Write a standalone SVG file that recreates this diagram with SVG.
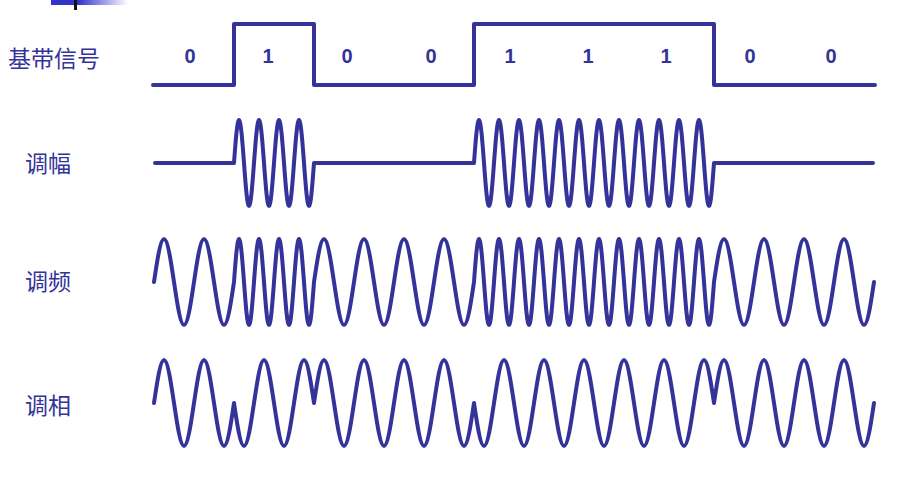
<svg xmlns="http://www.w3.org/2000/svg" width="921" height="480" viewBox="0 0 921 480">
<defs>
<linearGradient id="bar" x1="0" y1="0" x2="1" y2="0">
<stop offset="0" stop-color="#3333cc"/>
<stop offset="0.35" stop-color="#3333cc"/>
<stop offset="1" stop-color="#ffffff"/>
</linearGradient>
</defs>
<style>
.w{fill:none;stroke:#333399;stroke-width:4;stroke-linecap:round;stroke-linejoin:round}
.lab{font-family:"Noto Sans CJK SC","Noto Sans",sans-serif;font-size:23px;fill:#333399}
.bit{font-family:"Liberation Sans",Arial,sans-serif;font-size:20px;font-weight:bold;fill:#333399;text-anchor:middle}
</style>
<rect width="921" height="480" fill="#ffffff"/>
<rect x="51" y="0" width="77" height="5" fill="url(#bar)"/>
<rect x="74" y="0" width="3" height="10" fill="#111111"/>

<g id="baseband">
<text class="lab" x="8" y="67">基带信号</text>
<path class="w" d="M153,85 H234 V24 H314 V85 H474 V24 H714 V85 H875"/>
<text class="bit" x="190" y="63">0</text>
<text class="bit" x="268" y="63">1</text>
<text class="bit" x="347" y="63">0</text>
<text class="bit" x="431" y="63">0</text>
<text class="bit" x="510" y="63">1</text>
<text class="bit" x="588" y="63">1</text>
<text class="bit" x="666" y="63">1</text>
<text class="bit" x="750" y="63">0</text>
<text class="bit" x="831" y="63">0</text>
</g>

<g id="am">
<text class="lab" x="25" y="172">调幅</text>
<path class="w" d="M155,163 H234
c1.67,-22.58 3.21,-43 5,-43 s3.33,20.42 5,43 s3.21,43 5,43 s3.33,-20.42 5,-43
s3.21,-43 5,-43 s3.33,20.42 5,43 s3.21,43 5,43 s3.33,-20.42 5,-43
s3.21,-43 5,-43 s3.33,20.42 5,43 s3.21,43 5,43 s3.33,-20.42 5,-43
s3.21,-43 5,-43 s3.33,20.42 5,43 s3.21,43 5,43 s3.33,-20.42 5,-43
H474
c1.67,-22.58 3.21,-43 5,-43 s3.33,20.42 5,43 s3.21,43 5,43 s3.33,-20.42 5,-43
s3.21,-43 5,-43 s3.33,20.42 5,43 s3.21,43 5,43 s3.33,-20.42 5,-43
s3.21,-43 5,-43 s3.33,20.42 5,43 s3.21,43 5,43 s3.33,-20.42 5,-43
s3.21,-43 5,-43 s3.33,20.42 5,43 s3.21,43 5,43 s3.33,-20.42 5,-43
s3.21,-43 5,-43 s3.33,20.42 5,43 s3.21,43 5,43 s3.33,-20.42 5,-43
s3.21,-43 5,-43 s3.33,20.42 5,43 s3.21,43 5,43 s3.33,-20.42 5,-43
s3.21,-43 5,-43 s3.33,20.42 5,43 s3.21,43 5,43 s3.33,-20.42 5,-43
s3.21,-43 5,-43 s3.33,20.42 5,43 s3.21,43 5,43 s3.33,-20.42 5,-43
s3.21,-43 5,-43 s3.33,20.42 5,43 s3.21,43 5,43 s3.33,-20.42 5,-43
s3.21,-43 5,-43 s3.33,20.42 5,43 s3.21,43 5,43 s3.33,-20.42 5,-43
s3.21,-43 5,-43 s3.33,20.42 5,43 s3.21,43 5,43 s3.33,-20.42 5,-43
s3.21,-43 5,-43 s3.33,20.42 5,43 s3.21,43 5,43 s3.33,-20.42 5,-43
H873"/>
</g>

<g id="fm">
<text class="lab" x="25" y="290">调频</text>
<path class="w" d="M154,282
c3.34,-22.58 6.42,-43 10,-43 s6.66,20.42 10,43 s6.42,43 10,43 s6.66,-20.42 10,-43
s6.42,-43 10,-43 s6.66,20.42 10,43 s6.42,43 10,43 s6.66,-20.42 10,-43
c1.67,-22.58 3.21,-43 5,-43 s3.33,20.42 5,43 s3.21,43 5,43 s3.33,-20.42 5,-43
s3.21,-43 5,-43 s3.33,20.42 5,43 s3.21,43 5,43 s3.33,-20.42 5,-43
s3.21,-43 5,-43 s3.33,20.42 5,43 s3.21,43 5,43 s3.33,-20.42 5,-43
s3.21,-43 5,-43 s3.33,20.42 5,43 s3.21,43 5,43 s3.33,-20.42 5,-43
c3.34,-22.58 6.42,-43 10,-43 s6.66,20.42 10,43 s6.42,43 10,43 s6.66,-20.42 10,-43
s6.42,-43 10,-43 s6.66,20.42 10,43 s6.42,43 10,43 s6.66,-20.42 10,-43
s6.42,-43 10,-43 s6.66,20.42 10,43 s6.42,43 10,43 s6.66,-20.42 10,-43
s6.42,-43 10,-43 s6.66,20.42 10,43 s6.42,43 10,43 s6.66,-20.42 10,-43
c1.67,-22.58 3.21,-43 5,-43 s3.33,20.42 5,43 s3.21,43 5,43 s3.33,-20.42 5,-43
s3.21,-43 5,-43 s3.33,20.42 5,43 s3.21,43 5,43 s3.33,-20.42 5,-43
s3.21,-43 5,-43 s3.33,20.42 5,43 s3.21,43 5,43 s3.33,-20.42 5,-43
s3.21,-43 5,-43 s3.33,20.42 5,43 s3.21,43 5,43 s3.33,-20.42 5,-43
s3.21,-43 5,-43 s3.33,20.42 5,43 s3.21,43 5,43 s3.33,-20.42 5,-43
s3.21,-43 5,-43 s3.33,20.42 5,43 s3.21,43 5,43 s3.33,-20.42 5,-43
s3.21,-43 5,-43 s3.33,20.42 5,43 s3.21,43 5,43 s3.33,-20.42 5,-43
s3.21,-43 5,-43 s3.33,20.42 5,43 s3.21,43 5,43 s3.33,-20.42 5,-43
s3.21,-43 5,-43 s3.33,20.42 5,43 s3.21,43 5,43 s3.33,-20.42 5,-43
s3.21,-43 5,-43 s3.33,20.42 5,43 s3.21,43 5,43 s3.33,-20.42 5,-43
s3.21,-43 5,-43 s3.33,20.42 5,43 s3.21,43 5,43 s3.33,-20.42 5,-43
s3.21,-43 5,-43 s3.33,20.42 5,43 s3.21,43 5,43 s3.33,-20.42 5,-43
c3.34,-22.58 6.42,-43 10,-43 s6.66,20.42 10,43 s6.42,43 10,43 s6.66,-20.42 10,-43
s6.42,-43 10,-43 s6.66,20.42 10,43 s6.42,43 10,43 s6.66,-20.42 10,-43
s6.42,-43 10,-43 s6.66,20.42 10,43 s6.42,43 10,43 s6.66,-20.42 10,-43
s6.42,-43 10,-43 s6.66,20.42 10,43 s6.42,43 10,43 s6.66,-20.42 10,-43"/>
</g>

<g id="pm">
<text class="lab" x="25" y="414">调相</text>
<path class="w" d="M154,403
c3.34,-22.58 6.42,-43 10,-43 s6.66,20.42 10,43 s6.42,43 10,43 s6.66,-20.42 10,-43
s6.42,-43 10,-43 s6.66,20.42 10,43 s6.42,43 10,43 s6.66,-20.42 10,-43
c3.34,22.58 6.42,43 10,43 s6.66,-20.42 10,-43 s6.42,-43 10,-43 s6.66,20.42 10,43
s6.42,43 10,43 s6.66,-20.42 10,-43 s6.42,-43 10,-43 s6.66,20.42 10,43
c3.34,-22.58 6.42,-43 10,-43 s6.66,20.42 10,43 s6.42,43 10,43 s6.66,-20.42 10,-43
s6.42,-43 10,-43 s6.66,20.42 10,43 s6.42,43 10,43 s6.66,-20.42 10,-43
s6.42,-43 10,-43 s6.66,20.42 10,43 s6.42,43 10,43 s6.66,-20.42 10,-43
s6.42,-43 10,-43 s6.66,20.42 10,43 s6.42,43 10,43 s6.66,-20.42 10,-43
c3.34,22.58 6.42,43 10,43 s6.66,-20.42 10,-43 s6.42,-43 10,-43 s6.66,20.42 10,43
s6.42,43 10,43 s6.66,-20.42 10,-43 s6.42,-43 10,-43 s6.66,20.42 10,43
s6.42,43 10,43 s6.66,-20.42 10,-43 s6.42,-43 10,-43 s6.66,20.42 10,43
s6.42,43 10,43 s6.66,-20.42 10,-43 s6.42,-43 10,-43 s6.66,20.42 10,43
s6.42,43 10,43 s6.66,-20.42 10,-43 s6.42,-43 10,-43 s6.66,20.42 10,43
s6.42,43 10,43 s6.66,-20.42 10,-43 s6.42,-43 10,-43 s6.66,20.42 10,43
c3.34,-22.58 6.42,-43 10,-43 s6.66,20.42 10,43 s6.42,43 10,43 s6.66,-20.42 10,-43
s6.42,-43 10,-43 s6.66,20.42 10,43 s6.42,43 10,43 s6.66,-20.42 10,-43
s6.42,-43 10,-43 s6.66,20.42 10,43 s6.42,43 10,43 s6.66,-20.42 10,-43
s6.42,-43 10,-43 s6.66,20.42 10,43 s6.42,43 10,43 s6.66,-20.42 10,-43"/>
</g>
</svg>
